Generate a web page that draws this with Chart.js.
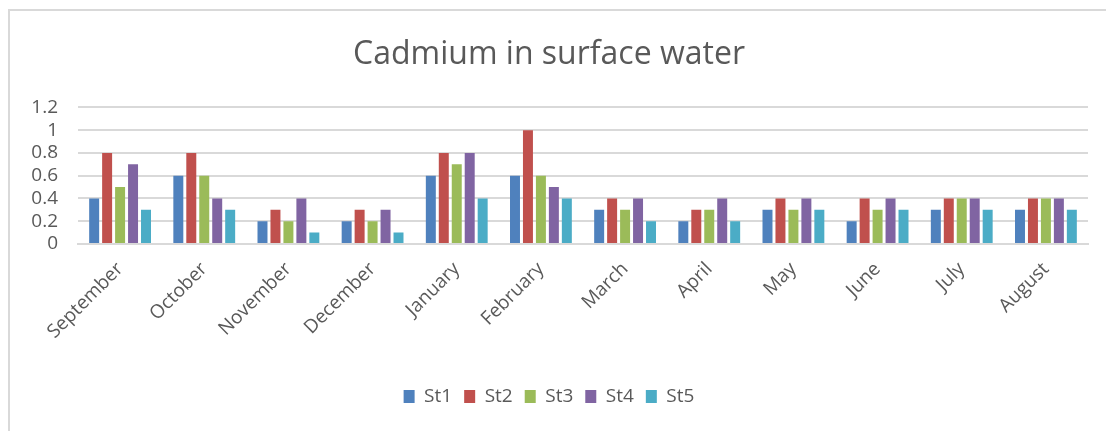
<!DOCTYPE html>
<html>
<head>
<meta charset="utf-8">
<script src="https://cdn.jsdelivr.net/npm/chart.js@4.4.0/dist/chart.umd.min.js"></script>
<style>
  html, body { margin: 0; padding: 0; background: #fff; }
  #wrap { position: relative; width: 1106px; height: 431px; overflow: hidden; }
  #frame { position: absolute; left: 8px; top: 9px; width: 1200px; height: 500px;
           border-top: 2px solid #d9d9d9; border-left: 2px solid #d9d9d9; box-sizing: border-box; }
  canvas { position: absolute; left: 0; top: 0; }
</style>
</head>
<body>
<div id="wrap">
  <div id="frame"></div>
  <canvas id="chart" width="1106" height="431"></canvas>
</div>
<script>
// cadmium in surface water, monthly per station
const months = ['September', 'October', 'November', 'December', 'January', 'February',
                'March', 'April', 'May', 'June', 'July', 'August'];
const st1 = [0.4, 0.6, 0.2, 0.2, 0.6, 0.6, 0.3, 0.2, 0.3, 0.2, 0.3, 0.3];
const st2 = [0.8, 0.8, 0.3, 0.3, 0.8, 1.0, 0.4, 0.3, 0.4, 0.4, 0.4, 0.4];
const st3 = [0.5, 0.6, 0.2, 0.2, 0.7, 0.6, 0.3, 0.3, 0.3, 0.3, 0.4, 0.4];
const st4 = [0.7, 0.4, 0.4, 0.3, 0.8, 0.5, 0.4, 0.4, 0.4, 0.4, 0.4, 0.4];
const st5 = [0.3, 0.3, 0.1, 0.1, 0.4, 0.4, 0.2, 0.2, 0.3, 0.3, 0.3, 0.3];
const yTicks = [0, 0.2, 0.4, 0.6, 0.8, 1, 1.2];

const names = ['St1', 'St2', 'St3', 'St4', 'St5'];
const colors = ['#4F81BD', '#C0504D', '#9BBB59', '#8064A2', '#4BACC6'];
const grey = '#595959';

Chart.defaults.font.family = "'Open Sans', sans-serif";
Chart.defaults.color = grey;

new Chart(document.getElementById('chart'), {
  type: 'bar',
  data: {
    labels: months,
    datasets: [st1, st2, st3, st4, st5].map((d, i) => ({
      label: names[i],
      data: d,
      backgroundColor: colors[i],
      borderWidth: 0,
      barPercentage: 0.77,
      categoryPercentage: 0.77
    }))
  },
  options: {
    responsive: false,
    animation: false,
    layout: { padding: { left: 10, right: 18, top: 0, bottom: 15 } },
    plugins: {
      title: {
        display: true,
        text: 'Cadmium in surface water',
        font: { size: 32, weight: 'normal' },
        color: grey,
        padding: { top: 36, bottom: 33 }
      },
      legend: {
        position: 'bottom',
        labels: { boxWidth: 11, boxHeight: 13, font: { size: 19 }, padding: 12, color: grey }
      },
      tooltip: { enabled: false }
    },
    scales: {
      x: {
        grid: { display: false },
        border: { color: '#d9d9d9', width: 2 },
        ticks: { minRotation: 45, maxRotation: 45, font: { size: 19 }, padding: 6 },
        afterFit: s => { s.height = 131; }
      },
      y: {
        min: 0,
        max: 1.2,
        afterBuildTicks: s => { s.ticks = yTicks.map(v => ({ value: v })); },
        grid: { color: '#d9d9d9', lineWidth: 2, drawTicks: false },
        border: { display: false },
        ticks: { font: { size: 19 }, padding: 20, autoSkip: false, callback: v => String(v) },
        afterFit: s => { s.width = 68; }
      }
    }
  }
});
</script>
</body>
</html>
